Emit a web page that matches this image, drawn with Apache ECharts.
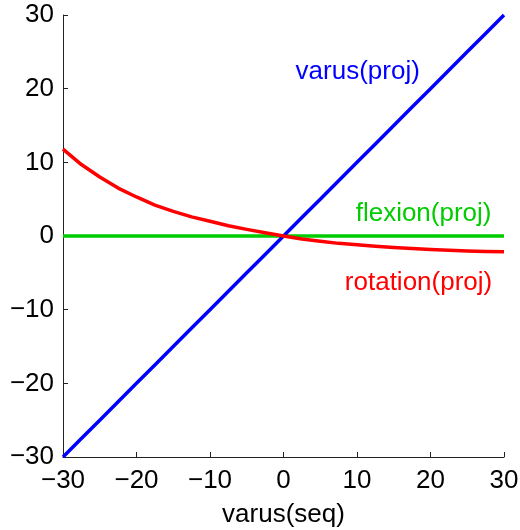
<!DOCTYPE html>
<html>
<head>
<meta charset="utf-8">
<script src="https://cdn.jsdelivr.net/npm/echarts@6/dist/echarts.min.js"></script>
<style>
  html, body { margin: 0; padding: 0; background: #fff; }
  #main { width: 520px; height: 530px; }
</style>
</head>
<body>
<div id="main"></div>
<script>
// x positions (varus seq)
let xVals = [-30, -27.5, -25, -22.5, -20, -17.5, -15, -12.5, -10, -7.5, -5, -2.5, 0,
             2.5, 5, 7.5, 10, 12.5, 15, 17.5, 20, 22.5, 25, 27.5, 30];
// projected values
let varusProj = [-30, -27.5, -25, -22.5, -20, -17.5, -15, -12.5, -10, -7.5, -5, -2.5, 0,
                 2.5, 5, 7.5, 10, 12.5, 15, 17.5, 20, 22.5, 25, 27.5, 30];
let flexionProj = [0, 0, 0, 0, 0, 0, 0, 0, 0, 0, 0, 0, 0,
                   0, 0, 0, 0, 0, 0, 0, 0, 0, 0, 0, 0];
let rotationProj = [11.8, 9.7, 8.0, 6.5, 5.3, 4.2, 3.35, 2.6, 2.0, 1.4, 0.9, 0.45, 0,
                    -0.4, -0.7, -1.0, -1.2, -1.4, -1.55, -1.7, -1.82, -1.93, -2.02, -2.1, -2.15];

// label anchors, in data units
let seriesNames = ['varus(proj)', 'flexion(proj)', 'rotation(proj)'];
let seriesColors = ['#0000ff', '#00cc00', '#ff0000'];
let labelAnchors = [[10.1, 22.3, 'center'], [28.3, 3.0, 'right'], [28.4, -6.4, 'right']];

function pairs(ys) {
    let out = [];
    for (let i = 0; i < xVals.length; i++) {
        out.push([xVals[i], ys[i]]);
    }
    return out;
}

let font = 'Liberation Sans, Arial, sans-serif';
let fs = 26;
let axisCommon = {
    type: 'value',
    min: -30,
    max: 30,
    interval: 10,
    splitLine: { show: false },
    axisLine: { show: true, onZero: false, lineStyle: { color: '#222', width: 1 } },
    axisTick: { show: true, inside: true, length: 5, lineStyle: { color: '#222' } },
    axisLabel: {
        color: '#000', fontSize: fs, fontFamily: font,
        formatter: function (v) { return v < 0 ? '\u2212' + Math.abs(v) : '' + v; }
    }
};

let myChart = echarts.init(document.getElementById('main'));
let option = {
    animation: false,
    backgroundColor: '#fff',
    grid: { left: 63, right: 16, top: 15, bottom: 73, containLabel: false, outerBoundsMode: 'none' },
    xAxis: Object.assign({}, axisCommon, {
        name: 'varus(seq)',
        nameLocation: 'middle',
        nameGap: 45,
        nameTextStyle: { color: '#000', fontSize: fs, fontFamily: font },
        axisLabel: Object.assign({}, axisCommon.axisLabel, { margin: 11 })
    }),
    yAxis: Object.assign({}, axisCommon, {
        axisLabel: Object.assign({}, axisCommon.axisLabel, { margin: 9 })
    }),
    series: [
        {
            name: seriesNames[0], type: 'line', data: pairs(varusProj),
            showSymbol: false, lineStyle: { color: seriesColors[0], width: 3.5 }, z: 3
        },
        {
            name: seriesNames[1], type: 'line', data: pairs(flexionProj),
            showSymbol: false, lineStyle: { color: seriesColors[1], width: 3.5 }, z: 2
        },
        {
            name: seriesNames[2], type: 'line', data: pairs(rotationProj),
            showSymbol: false, lineStyle: { color: seriesColors[2], width: 3.5, join: 'round' }, z: 4
        }
    ]
};
myChart.setOption(option);

// text labels placed from data coordinates
let texts = [];
for (let i = 0; i < seriesNames.length; i++) {
    let p = myChart.convertToPixel({ gridIndex: 0 }, [labelAnchors[i][0], labelAnchors[i][1]]);
    texts.push({
        type: 'text',
        x: p[0], y: p[1],
        style: {
            text: seriesNames[i], fill: seriesColors[i], font: fs + 'px ' + font,
            align: labelAnchors[i][2], verticalAlign: 'middle'
        }
    });
}
myChart.setOption({ graphic: texts });
</script>
</body>
</html>
